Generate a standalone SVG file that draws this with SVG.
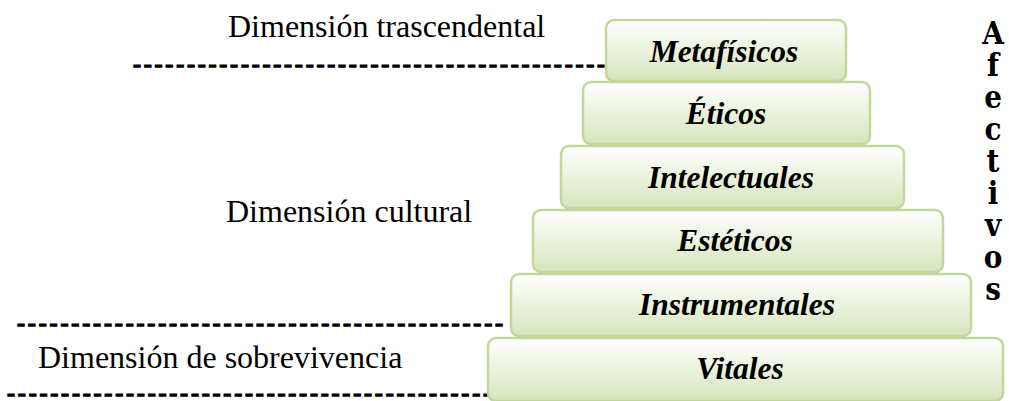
<svg xmlns="http://www.w3.org/2000/svg" width="1009" height="401" viewBox="0 0 1009 401">
<defs>
<linearGradient id="g" x1="0" y1="0" x2="0" y2="1">
<stop offset="0" stop-color="#ffffff"/>
<stop offset="1" stop-color="#d6e5bb"/>
</linearGradient>
<style>
.box{fill:url(#g);stroke:#c3d69b;stroke-width:2.5}
.lbl{font-family:"Liberation Serif","Times New Roman",serif;font-size:31.5px;font-weight:bold;font-style:italic;fill:#000;text-anchor:middle}
.dim{font-family:"Liberation Serif","Times New Roman",serif;font-size:32px;fill:#000}
.dash{font-family:"Liberation Serif","Times New Roman",serif;font-size:24px;fill:#000;stroke:#000;stroke-width:1.3}
.af{font-family:"DejaVu Serif Condensed","DejaVu Serif","Liberation Serif",serif;font-stretch:condensed;font-size:31px;font-weight:bold;fill:#000;writing-mode:vertical-rl;text-orientation:upright;letter-spacing:-4px}
</style>
</defs>
<rect width="1009" height="401" fill="#ffffff"/>
<g id="dimensions">
<text class="dim" x="228" y="37">Dimensión trascendental</text>
<text class="dim" x="226" y="222">Dimensión cultural</text>
<text class="dim" x="38" y="368">Dimensión de sobrevivencia</text>
</g>
<g id="separators">
<text class="dash" x="133" y="71.5" textLength="472" lengthAdjust="spacing">--------------------------------------------</text>
<text class="dash" x="17" y="330.5" textLength="486" lengthAdjust="spacing">---------------------------------------------</text>
<text class="dash" x="7" y="401" textLength="484" lengthAdjust="spacing">---------------------------------------------</text>
</g>
<g id="vitales">
<rect class="box" x="488" y="338" width="515" height="63" rx="8"/>
<text class="lbl" x="740" y="379">Vitales</text>
</g>
<g id="instrumentales">
<rect class="box" x="511" y="274" width="460" height="62" rx="8"/>
<text class="lbl" x="737" y="315">Instrumentales</text>
</g>
<g id="esteticos">
<rect class="box" x="533" y="210" width="410" height="62" rx="8"/>
<text class="lbl" x="735" y="251">Estéticos</text>
</g>
<g id="intelectuales">
<rect class="box" x="561" y="146" width="343" height="62" rx="8"/>
<text class="lbl" x="731" y="188">Intelectuales</text>
</g>
<g id="eticos">
<rect class="box" x="583" y="82" width="287" height="62" rx="8"/>
<text class="lbl" x="726" y="124">Éticos</text>
</g>
<g id="metafisicos">
<rect class="box" x="606" y="20" width="240" height="61" rx="8"/>
<text class="lbl" x="724" y="62">Metafísicos</text>
</g>
<g id="afectivos">
<text class="af" x="993" y="15">Afectivos</text>
</g>
</svg>
